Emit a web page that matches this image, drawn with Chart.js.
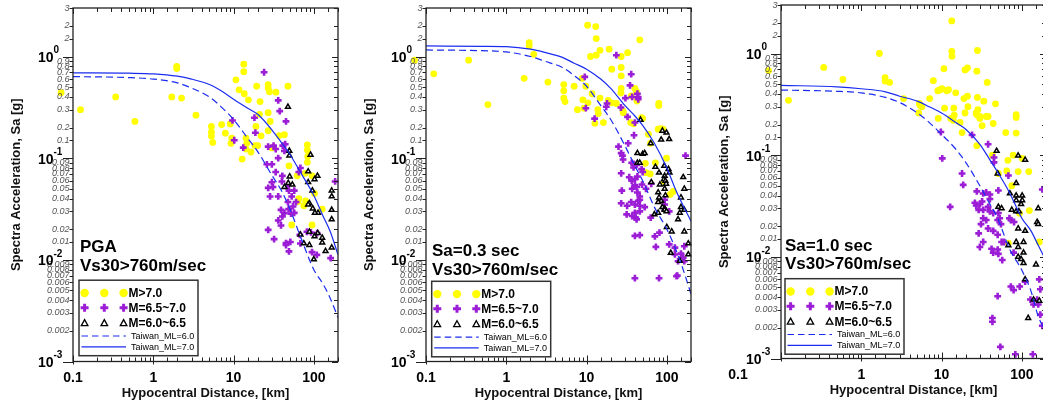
<!DOCTYPE html>
<html>
<head>
<meta charset="utf-8">
<script src="https://cdn.jsdelivr.net/npm/chart.js@4/dist/chart.umd.min.js"></script>
<style>
  html, body { margin: 0; padding: 0; background: #fff; overflow: hidden; width: 1043px; height: 409px; position: relative; }
  .panel { position: absolute; width: 349px; height: 409px; }
</style>
</head>
<body>
<div class="panel" style="left:1px;top:0"><canvas id="pga" width="349" height="409"></canvas></div>
<div class="panel" style="left:354px;top:0"><canvas id="sa03" width="349" height="409"></canvas></div>
<div class="panel" style="left:709px;top:-3px"><canvas id="sa10" width="349" height="409"></canvas></div>
<script>
var FONT = '"Liberation Sans", Arial, Helvetica, sans-serif';

// distances used for the two Taiwan attenuation curves (km)
var curveDist = [0.1, 0.5, 1, 2, 3, 5, 7, 10, 15, 20, 30, 40, 50, 70, 100, 130, 160, 200];

// ---- PGA ----
var pgaML7 = [0.69, 0.685, 0.675, 0.64, 0.60, 0.53, 0.46, 0.38, 0.31, 0.27, 0.19, 0.14, 0.11, 0.07, 0.043, 0.027, 0.019, 0.0112];
var pgaML6 = [0.635, 0.62, 0.60, 0.55, 0.49, 0.40, 0.32, 0.24, 0.157, 0.116, 0.068, 0.047, 0.032, 0.016, 0.008, 0.0058, 0.0042, 0.0027];
var pgaM70 = [[0.071,0.44],[0.124,0.30],[0.34,0.40],[0.59,0.23],[1.96,0.80],[1.96,0.76],[1.70,0.40],[2.25,0.39],[3.4,0.265],[5.3,0.205],[5.3,0.18],[5.3,0.165],[5.5,0.143],[7.1,0.214],[7.9,0.176],[9.1,0.217],[9.3,0.14],[9.5,0.157],[10.7,0.59],[11.7,0.47],[13.4,0.84],[13.4,0.71],[13.6,0.43],[15.3,0.375],[14.3,0.157],[14.6,0.14],[14.3,0.123],[16.5,0.115],[18.5,0.133],[20,0.133],[12.8,0.098],[19.4,0.51],[21.4,0.36],[21,0.27],[19,0.205],[22,0.166],[27,0.53],[27,0.49],[28,0.45],[27,0.28],[28.6,0.23],[27,0.186],[30,0.126],[33.7,0.446],[37,0.167],[43,0.17],[47.6,0.51],[49,0.084],[62,0.067],[83,0.135],[83,0.12],[84,0.104],[83,0.091],[78,0.071],[95,0.067],[102,0.045],[65,0.04],[79,0.038],[63.5,0.0375],[75,0.034],[127,0.0315],[53,0.022],[95,0.022]];
var pgaM65 = [[24,0.70],[36,0.37],[37.6,0.29],[45,0.23],[18.2,0.25],[18.7,0.178],[9.7,0.235],[10.2,0.15],[13.2,0.127],[27,0.13],[31.5,0.133],[33.5,0.123],[41,0.133],[44,0.137],[43,0.118],[36,0.1],[26,0.087],[30,0.087],[33.5,0.073],[40.5,0.067],[40,0.059],[30,0.058],[27,0.051],[31,0.052],[28.5,0.042],[46,0.053],[49,0.048],[57,0.048],[53,0.042],[65,0.073],[68,0.08],[184,0.059],[36,0.042],[47.6,0.037],[60,0.037],[27,0.0197],[32,0.016],[36,0.0244],[40.5,0.0267],[43,0.0288],[39,0.031],[48.5,0.0315],[55,0.0335],[52,0.0285],[57,0.029],[45,0.0146],[45,0.014],[49,0.0121],[51,0.015],[68,0.0145],[67,0.0176],[82,0.0189],[92,0.0186],[95,0.0119],[109,0.0112],[162,0.0104],[110,0.0183],[39,0.0218]];
var pgaM60 = [[47.6,0.32],[49.6,0.118],[49.6,0.106],[91,0.108],[50,0.066],[48,0.057],[54,0.055],[85,0.074],[85,0.058],[111,0.067],[102,0.062],[96,0.048],[167,0.048],[167,0.042],[43,0.052],[88,0.036],[85,0.035],[97,0.032],[113,0.029],[103,0.029],[167,0.031],[167,0.025],[68,0.0177],[88,0.0189],[75,0.0145],[88,0.014],[112,0.0183],[102,0.017],[127,0.0165],[127,0.0148],[140,0.0122],[167,0.0132],[100,0.0101]];

// ---- Sa 0.3 sec ----
var sa03ML7 = [1.27, 1.26, 1.25, 1.18, 1.10, 0.98, 0.86, 0.75, 0.60, 0.485, 0.33, 0.26, 0.21, 0.14, 0.08, 0.048, 0.034, 0.024];
var sa03ML6 = [1.16, 1.14, 1.11, 1.0, 0.9, 0.78, 0.65, 0.51, 0.33, 0.24, 0.133, 0.084, 0.06, 0.033, 0.02, 0.0125, 0.008, 0.0046];
var sa03M70 = [[0.072,0.92],[0.125,0.675],[0.34,0.92],[0.59,0.337],[1.67,0.61],[1.93,1.37],[1.93,1.27],[2.2,1.05],[3.3,0.56],[5.2,0.53],[5.2,0.46],[5.2,0.39],[5.4,0.36],[7,0.51],[7.7,0.30],[8.8,0.61],[9,0.375],[9.8,0.51],[9.3,0.31],[10.3,2.03],[13,1.97],[11.2,1.0],[13.2,1.5],[13.2,1.03],[14.7,1.15],[11.7,0.43],[10.4,0.35],[14.7,0.39],[13.8,0.30],[14,0.275],[12.7,0.22],[16.2,0.224],[19.1,1.18],[18.6,0.37],[20.6,0.75],[20.6,0.35],[23.5,0.345],[26.8,0.44],[27,1.0],[27,0.78],[27,0.645],[27,0.485],[28.5,0.29],[28.7,0.28],[32.4,1.09],[36,0.41],[40,0.485],[42,0.45],[42.4,0.365],[46,1.46],[48.5,0.25],[50,0.245],[35.5,0.224],[38.5,0.218],[79.4,0.345],[79.4,0.33],[78,0.193],[90,0.193],[84,0.195],[59,0.172],[99,0.1],[62.5,0.14],[54,0.089],[72,0.09],[55,0.072],[62,0.07],[93,0.058],[120,0.047],[110,0.044]];
var sa03M65 = [[9.5,0.63],[9.8,0.31],[12.6,0.245],[18,0.345],[17.6,0.32],[23.5,1.03],[26.8,0.315],[36,0.67],[34.8,0.52],[37,0.40],[32.4,0.255],[30.5,0.39],[43,0.43],[44,0.40],[44,0.38],[40,0.224],[39,0.168],[33,0.14],[25,0.13],[27,0.112],[28,0.106],[28.5,0.097],[36.5,0.09],[38.5,0.088],[38.5,0.081],[42,0.086],[48.5,0.078],[50,0.073],[27,0.071],[34,0.065],[36.5,0.06],[40,0.062],[43,0.066],[40,0.054],[49,0.055],[27.5,0.048],[37,0.05],[42,0.052],[43,0.046],[46,0.042],[46,0.039],[55,0.05],[64,0.056],[171,0.106],[94,0.039],[27,0.036],[32,0.034],[36,0.037],[40,0.035],[44,0.038],[46,0.034],[46,0.030],[40,0.029],[37,0.027],[31.6,0.028],[41,0.026],[42,0.025],[53,0.033],[40,0.0172],[46,0.0175],[63,0.026],[94,0.035],[107,0.030],[71,0.017],[81,0.0185],[107,0.0142],[73,0.0134],[126,0.0132],[165,0.0136],[126,0.0113],[150,0.0115],[160,0.0105],[138,0.0097],[165,0.0097],[132,0.0069],[135,0.007],[40,0.0066],[80,0.0066]];
var sa03M60 = [[47,0.238],[88,0.186],[99,0.178],[107,0.154],[85,0.152],[63,0.14],[43,0.112],[50,0.11],[53,0.112],[43,0.09],[46,0.09],[72,0.082],[80,0.072],[93,0.084],[105,0.078],[108,0.072],[94,0.067],[92,0.062],[96,0.06],[64,0.058],[82,0.055],[98,0.056],[78,0.046],[94,0.05],[96,0.043],[160,0.065],[165,0.05],[150,0.041],[80,0.041],[85,0.038],[78,0.037],[88,0.033],[94,0.032],[70,0.028],[78,0.029],[94,0.031],[99,0.03],[145,0.029],[150,0.033],[165,0.031],[138,0.025],[165,0.019],[100,0.021],[115,0.019],[112,0.0117],[145,0.0098],[185,0.0113],[185,0.0145]];

// ---- Sa 1.0 sec ----
var sa10ML7 = [0.486, 0.47, 0.45, 0.42, 0.38, 0.34, 0.30, 0.26, 0.21, 0.18, 0.128, 0.09, 0.068, 0.043, 0.024, 0.018, 0.013, 0.0092];
var sa10ML6 = [0.437, 0.425, 0.41, 0.37, 0.33, 0.26, 0.21, 0.16, 0.115, 0.085, 0.05, 0.033, 0.024, 0.012, 0.0074, 0.0046, 0.0026, 0.0018];
var sa10M70 = [[0.07,0.68],[0.124,0.346],[0.34,0.73],[0.59,0.555],[1.68,1.0],[1.98,0.58],[1.98,0.535],[2.25,0.52],[3.37,0.36],[5.3,0.323],[5.4,0.31],[5.7,0.30],[5.2,0.26],[7.1,0.36],[7.9,0.54],[9.1,0.23],[9,0.43],[9.6,0.44],[10.1,0.45],[11.6,0.43],[12.2,0.44],[10.7,0.71],[10.9,0.29],[13.4,2.09],[13.4,1.05],[13.5,0.94],[13,0.23],[14,0.22],[14.4,0.247],[14.2,0.29],[15,0.41],[18,0.167],[17,0.21],[19,0.36],[19.6,0.26],[19.6,0.69],[21,0.72],[21,0.38],[21.3,0.30],[28,1.07],[27.5,0.67],[28,0.37],[28.3,0.28],[27,0.26],[27.5,0.25],[30,0.24],[30,0.23],[27.5,0.124],[37,0.52],[33.6,0.34],[36,0.24],[38,0.24],[32,0.195],[44,0.205],[47,0.32],[43,0.1],[63,0.167],[85,0.25],[85,0.235],[85,0.165],[78,0.1],[67,0.089],[65,0.07],[51,0.066],[75,0.05],[90,0.069],[101,0.093],[122,0.069],[93.5,0.0268],[124,0.0285],[68,0.0136],[165,0.014]];
var sa10M65 = [[9.8,0.169],[10.2,0.093],[24,0.158],[38,0.128],[45,0.095],[45,0.085],[68,0.063],[18,0.066],[18.6,0.051],[27.5,0.044],[33,0.042],[36,0.043],[40,0.041],[40,0.037],[51,0.045],[26,0.034],[32,0.035],[180,0.046],[12.8,0.031],[27,0.032],[30,0.033],[33,0.029],[29,0.029],[38,0.031],[40,0.028],[44,0.027],[51,0.027],[53,0.024],[50,0.023],[55,0.021],[33,0.024],[36,0.023],[31,0.021],[29,0.017],[38,0.019],[44,0.018],[50,0.0165],[30,0.0125],[33,0.014],[42,0.012],[50,0.0118],[56,0.014],[44,0.011],[51,0.0107],[57,0.0093],[70,0.024],[73,0.023],[80,0.022],[60,0.014],[79,0.011],[73,0.0051],[79,0.0047],[94,0.0051],[50,0.0041],[110,0.0057],[128,0.0038],[155,0.0038],[165,0.006],[170,0.0048],[140,0.0034],[160,0.0034],[170,0.0027],[180,0.0021],[43,0.0025],[43,0.0023],[54,0.0013],[83,0.0011],[137,0.0011]];
var sa10M60 = [[48.5,0.11],[90,0.099],[110,0.09],[50,0.066],[85,0.053],[71,0.042],[85,0.04],[101,0.04],[85,0.036],[101,0.036],[51,0.031],[56,0.03],[75,0.029],[98,0.033],[160,0.03],[85,0.028],[92,0.028],[90,0.019],[110,0.018],[155,0.022],[160,0.021],[68,0.013],[85,0.014],[90,0.0125],[105,0.014],[105,0.011],[90,0.01],[98,0.0095],[105,0.0087],[150,0.0084],[110,0.006],[120,0.0025],[140,0.0038],[165,0.0037]];

var legendLabels = ['M>7.0', 'M=6.5~7.0', 'M=6.0~6.5', 'Taiwan_ML=6.0', 'Taiwan_ML=7.0'];

var YELLOW = '#ffff00', PURPLE = '#9c1dd6', BLUE = '#1a2cf0';

var isPow10 = function (v) {
  var l = Math.log10(v);
  return Math.abs(l - Math.round(l)) < 1e-6;
};

function pts(list) {
  return list.map(function (p) { return {x: p[0], y: p[1]}; });
}

function curve(vals) {
  return curveDist.map(function (d, i) { return {x: d, y: vals[i]}; });
}

// frame, inward/outward ticks and the tick labels
var axesPlugin = {
  id: 'axesFrame',
  afterDatasetsDraw: function (chart) {
    var ctx = chart.ctx, a = chart.chartArea;
    var x = chart.scales.x, y = chart.scales.y;
    var p = chart.options.plugins.axesFrame;
    ctx.save();

    // points that lie outside the plot box are skipped by chart.js, draw them here
    var everywhere = {left: -1e4, right: 1e4, top: -1e4, bottom: 1e4};
    for (var d = chart.data.datasets.length - 1; d >= 0; d--) {
      if (chart.data.datasets[d].showLine) continue;
      chart.getDatasetMeta(d).data.forEach(function (el) {
        if (el.x < a.left || el.x > a.right || el.y < a.top || el.y > a.bottom) el.draw(ctx, everywhere);
      });
    }

    ctx.strokeStyle = '#222';
    ctx.lineWidth = 1.3;
    ctx.strokeRect(a.left, a.top, a.right - a.left, a.bottom - a.top);

    ctx.lineWidth = 1;
    ctx.beginPath();
    x.ticks.forEach(function (t) {
      var px = Math.round(x.getPixelForValue(t.value)) + 0.5;
      var big = isPow10(t.value);
      ctx.moveTo(px, a.top);
      ctx.lineTo(px, a.top + (big ? 6 : 4));
      ctx.moveTo(px, a.bottom + (big ? 3 : 0));
      ctx.lineTo(px, a.bottom - (big ? 6 : 4));
    });
    y.ticks.forEach(function (t) {
      var py = Math.round(y.getPixelForValue(t.value)) + 0.5;
      var big = isPow10(t.value);
      ctx.moveTo(a.left - (big ? 10 : 3.5), py);
      ctx.lineTo(a.left, py);
      ctx.moveTo(a.right, py);
      ctx.lineTo(a.right - (big ? 6 : 4), py);
    });
    ctx.stroke();

    // y labels: bold powers of ten, grey italic in between
    ctx.textBaseline = 'middle';
    y.ticks.forEach(function (t) {
      var py = y.getPixelForValue(t.value);
      if (isPow10(t.value)) {
        ctx.fillStyle = '#000';
        ctx.font = 'bold 14px ' + FONT;
        ctx.textAlign = 'right';
        ctx.fillText('10', a.left - 19.5, py + 1.5);
        ctx.font = 'bold 10px ' + FONT;
        ctx.textAlign = 'left';
        ctx.fillText(String(Math.round(Math.log10(t.value))), a.left - 19.5, py - 6);
      } else {
        ctx.fillStyle = '#555';
        ctx.font = 'italic 9px ' + FONT;
        ctx.textAlign = 'right';
        ctx.fillText(String(Number(t.value.toPrecision(1))), a.left - 3.5, py);
      }
    });

    // x labels
    ctx.fillStyle = '#000';
    ctx.font = 'bold 14px ' + FONT;
    ctx.textAlign = 'center';
    x.ticks.forEach(function (t) {
      if (!isPow10(t.value)) return;
      var px = x.getPixelForValue(t.value);
      if (t.value === 0.1) px += p.firstLabelShift;
      ctx.fillText(String(Number(t.value.toPrecision(1))), px, a.bottom + 17);
    });

    // panel note
    ctx.textAlign = 'left';
    ctx.font = 'bold 17px ' + FONT;
    p.note.forEach(function (line, i) {
      ctx.fillText(line, a.left + p.noteX, a.top + p.noteY + i * 18.5);
    });

    drawLegend(ctx, a, p);
    ctx.restore();
  }
};

function drawLegend(ctx, a, p) {
  var bw = 119, bh = 75.5;
  var bx = a.left + p.legendX;
  var by = a.bottom - p.legendGap - bh;
  ctx.fillStyle = '#fff';
  ctx.fillRect(bx, by, bw, bh);
  ctx.strokeStyle = '#333';
  ctx.lineWidth = 1.5;
  ctx.strokeRect(bx, by, bw, bh);

  var mx = [5.6, 25.3, 44.6];
  var rows = [12.8, 27.5, 43, 55.8, 66.6];

  mx.forEach(function (dx) {
    var cx = bx + dx;
    // circle
    ctx.fillStyle = YELLOW;
    ctx.beginPath();
    ctx.arc(cx, by + rows[0], 4.2, 0, Math.PI * 2);
    ctx.fill();
    // cross
    ctx.strokeStyle = PURPLE;
    ctx.lineWidth = 3;
    ctx.beginPath();
    ctx.moveTo(cx - 4, by + rows[1]); ctx.lineTo(cx + 4, by + rows[1]);
    ctx.moveTo(cx, by + rows[1] - 4); ctx.lineTo(cx, by + rows[1] + 4);
    ctx.stroke();
    // triangle
    ctx.strokeStyle = '#000';
    ctx.lineWidth = 1.3;
    ctx.beginPath();
    ctx.moveTo(cx, by + rows[2] - 3.6);
    ctx.lineTo(cx + 3.3, by + rows[2] + 2.4);
    ctx.lineTo(cx - 3.3, by + rows[2] + 2.4);
    ctx.closePath();
    ctx.stroke();
  });

  ctx.fillStyle = '#000';
  ctx.textAlign = 'left';
  ctx.textBaseline = 'middle';
  ctx.font = 'bold 12px ' + FONT;
  for (var i = 0; i < 3; i++) ctx.fillText(legendLabels[i], bx + 49.5, by + rows[i] + 0.5);

  ctx.strokeStyle = BLUE;
  ctx.lineWidth = 1.2;
  ctx.setLineDash([6.5, 4]);
  ctx.beginPath();
  ctx.moveTo(bx + 2.5, by + rows[3]); ctx.lineTo(bx + 47, by + rows[3]);
  ctx.stroke();
  ctx.setLineDash([]);
  ctx.beginPath();
  ctx.moveTo(bx + 2.5, by + rows[4]); ctx.lineTo(bx + 47, by + rows[4]);
  ctx.stroke();

  ctx.font = '9px ' + FONT;
  ctx.fillText(legendLabels[3], bx + 52, by + rows[3] + 0.5);
  ctx.fillText(legendLabels[4], bx + 52, by + rows[4] + 0.5);
}

function makeChart(id, m70, m65, m60, ml6, ml7, frame) {
  return new Chart(document.getElementById(id), {
    type: 'scatter',
    data: {
      datasets: [
        { label: legendLabels[4], data: curve(ml7), showLine: true, pointRadius: 0, borderColor: BLUE, borderWidth: 1.2, cubicInterpolationMode: 'monotone' },
        { label: legendLabels[3], data: curve(ml6), showLine: true, pointRadius: 0, borderColor: BLUE, borderWidth: 1.2, borderDash: [7, 4], cubicInterpolationMode: 'monotone' },
        { label: legendLabels[2], data: pts(m60), pointStyle: 'triangle', pointRadius: 2.8, borderColor: '#000', borderWidth: 1.5, backgroundColor: '#fff', clip: false },
        { label: legendLabels[1], data: pts(m65), pointStyle: 'cross', pointRadius: 3.4, borderColor: PURPLE, borderWidth: 2.6, clip: false },
        { label: legendLabels[0], data: pts(m70), pointStyle: 'circle', pointRadius: 3.4, backgroundColor: YELLOW, borderWidth: 0, clip: false }
      ]
    },
    options: {
      responsive: false,
      animation: false,
      events: [],
      layout: { padding: { top: 8, right: 12, left: 0, bottom: 0 } },
      plugins: { legend: { display: false }, tooltip: { enabled: false }, axesFrame: frame },
      scales: {
        x: {
          type: 'logarithmic', min: 0.1, max: 200,
          grid: { display: false }, border: { display: false },
          ticks: { display: false },
          title: { display: true, text: 'Hypocentral Distance, [km]', color: '#111',
                   font: { family: FONT, size: 13, weight: 'bold' }, padding: { top: 0, bottom: 8 } },
          afterFit: function (s) { s.height = 47.5; }
        },
        y: {
          type: 'logarithmic', min: 0.001, max: 3,
          grid: { display: false }, border: { display: false },
          ticks: { display: false },
          title: { display: true, text: 'Spectra Acceleration, Sa [g]', color: '#111',
                   font: { family: FONT, size: 13, weight: 'bold' }, padding: { top: 8, bottom: 0 } },
          afterFit: function (s) { s.width = 72; }
        }
      }
    },
    plugins: [axesPlugin]
  });
}

makeChart('pga', pgaM70, pgaM65, pgaM60, pgaML6, pgaML7,
  { note: ['PGA', 'Vs30>760m/sec'], noteX: 7, noteY: 239.5, firstLabelShift: 0, legendX: 6, legendGap: 5.8 });
makeChart('sa03', sa03M70, sa03M65, sa03M60, sa03ML6, sa03ML7,
  { note: ['Sa=0.3 sec', 'Vs30>760m/sec'], noteX: 6, noteY: 243.5, firstLabelShift: 0, legendX: 5.7, legendGap: 4.7 });
makeChart('sa10', sa10M70, sa10M65, sa10M60, sa10ML6, sa10ML7,
  { note: ['Sa=1.0 sec', 'Vs30>760m/sec'], noteX: 4, noteY: 241, firstLabelShift: -43, legendX: 4, legendGap: 4.3 });
</script>
</body>
</html>
